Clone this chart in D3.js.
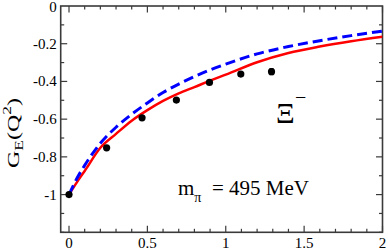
<!DOCTYPE html>
<html><head><meta charset="utf-8">
<script src="https://cdn.jsdelivr.net/npm/d3@7"></script>
<style>
html,body{margin:0;padding:0;background:#fff;}
svg text{font-family:"Liberation Serif","Times New Roman",serif;fill:#000;}
</style></head>
<body><svg id="c" width="388" height="249"></svg>
<script>
// Data
const lattQ2 = [0, 0.24, 0.466, 0.685, 0.896, 1.096, 1.292];
const lattGE = [-1, -0.752, -0.593, -0.499, -0.405, -0.361, -0.348];
const lattErr = [0.004, 0.006, 0.008, 0.008, 0.010, 0.012, 0.016];
const curveQ2 = [0, 0.05, 0.1, 0.2, 0.3, 0.4, 0.5, 0.6, 0.7, 0.8, 0.9, 1.0, 1.2, 1.4, 1.6, 1.8, 2.0];
const redGE  = [-1, -0.935, -0.875, -0.752, -0.678, -0.608, -0.552, -0.503, -0.463, -0.43, -0.396, -0.364, -0.298, -0.249, -0.215, -0.187, -0.163];
const blueGE = [-1, -0.915, -0.845, -0.728, -0.643, -0.574, -0.514, -0.459, -0.414, -0.374, -0.339, -0.308, -0.254, -0.215, -0.184, -0.157, -0.133];
const xTicks = [0, 0.5, 1, 1.5, 2];
const xTickLabels = ["0", "0.5", "1", "1.5", "2"];
const yTicks = [0, -0.2, -0.4, -0.6, -0.8, -1];
const yTickLabels = ["0", "-0.2", "-0.4", "-0.6", "-0.8", "-1"];

const svg = d3.select("#c");
const L = 60.7, R = 382.5, T = 6, B = 232.3;
const x = d3.scaleLinear().domain([-0.053, 2]).range([L, R]);
const y = d3.scaleLinear().domain([-1.2, 0]).range([B, T]);
const axisColor = "#3a3a3a";

// minor ticks
const xMinor = d3.range(0, 21).map(i => i / 10).filter(v => !xTicks.includes(v));
const yMinor = d3.range(0, 13).map(i => -i / 10).filter(v => !yTicks.some(t => Math.abs(t - v) < 1e-9));

const g = svg.append("g").attr("stroke", axisColor).attr("stroke-width", 1.2);
function tickLines(vals, len, isX) {
  vals.forEach(v => {
    if (isX) {
      const px = x(v);
      g.append("line").attr("x1", px).attr("x2", px).attr("y1", B).attr("y2", B - len);
      g.append("line").attr("x1", px).attr("x2", px).attr("y1", T).attr("y2", T + len);
    } else {
      const py = y(v);
      g.append("line").attr("x1", L).attr("x2", L + len).attr("y1", py).attr("y2", py);
      g.append("line").attr("x1", R).attr("x2", R - len).attr("y1", py).attr("y2", py);
    }
  });
}
tickLines(xTicks, 6.5, true);
tickLines(xMinor, 3.5, true);
tickLines(yTicks.filter(v => v !== 0), 6.5, false);
tickLines(yMinor, 3.5, false);

// frame
svg.append("rect").attr("x", L).attr("y", T).attr("width", R - L).attr("height", B - T)
  .attr("fill", "none").attr("stroke", axisColor).attr("stroke-width", 1.6);

// tick labels
svg.selectAll(".xl").data(xTicks).enter().append("text")
  .attr("x", d => x(d)).attr("y", 247.5).attr("text-anchor", "middle")
  .attr("font-size", 15).text((d, i) => xTickLabels[i]);
svg.selectAll(".yl").data(yTicks).enter().append("text")
  .attr("x", L - 4).attr("y", d => Math.max(y(d) + 5, 11.5)).attr("text-anchor", "end")
  .attr("font-size", 15).text((d, i) => yTickLabels[i]);

// clip
svg.append("clipPath").attr("id", "pc").append("rect")
  .attr("x", L).attr("y", T).attr("width", R - L).attr("height", B - T);

const line = d3.line().x(d => x(d[0])).y(d => y(d[1])).curve(d3.curveMonotoneX);
const plot = svg.append("g").attr("clip-path", "url(#pc)");
plot.append("path").datum(curveQ2.map((q, i) => [q, redGE[i]]))
  .attr("d", line).attr("fill", "none").attr("stroke", "#ff0000").attr("stroke-width", 2.5);
plot.append("path").datum(curveQ2.map((q, i) => [q, blueGE[i]]))
  .attr("d", line).attr("fill", "none").attr("stroke", "#0000ff").attr("stroke-width", 3)
  .attr("stroke-dasharray", "10,5");

// points
const pts = svg.append("g");
lattQ2.forEach((q, i) => {
  pts.append("line").attr("x1", x(q)).attr("x2", x(q))
    .attr("y1", y(lattGE[i] - lattErr[i])).attr("y2", y(lattGE[i] + lattErr[i]))
    .attr("stroke", "#000").attr("stroke-width", 1);
  [lattGE[i] - lattErr[i], lattGE[i] + lattErr[i]].forEach(v => {
    pts.append("line").attr("x1", x(q) - 2).attr("x2", x(q) + 2)
      .attr("y1", y(v)).attr("y2", y(v)).attr("stroke", "#000").attr("stroke-width", 1);
  });
  pts.append("circle").attr("cx", x(q)).attr("cy", y(lattGE[i])).attr("r", 3.6).attr("fill", "#000");
});

// y label (stretched along its direction like the reference)
const yl = svg.append("text").attr("transform", "translate(19,133) rotate(-90) scale(1.45,1)")
  .attr("text-anchor", "middle").attr("font-size", 16.5);
yl.append("tspan").text("G");
yl.append("tspan").attr("font-size", 12).attr("dy", 4).text("E");
yl.append("tspan").attr("dy", -4).text("(Q");
yl.append("tspan").attr("font-size", 12).attr("dy", -8).text("2");
yl.append("tspan").attr("dy", 8).text(")");

// Xi label
svg.append("text").attr("x", 276).attr("y", 123).attr("font-size", 29).text("Ξ");
svg.append("text").attr("x", 295).attr("y", 104).attr("font-size", 20).text("\u2212");

// m_pi label
const mt = svg.append("text").attr("x", 178).attr("y", 195).attr("font-size", 21);
mt.append("tspan").text("m");
mt.append("tspan").attr("font-size", 14).attr("dy", 7).text("π");
mt.append("tspan").attr("dy", -7).text("\u00a0\u00a0= 495 MeV");
</script></body></html>
